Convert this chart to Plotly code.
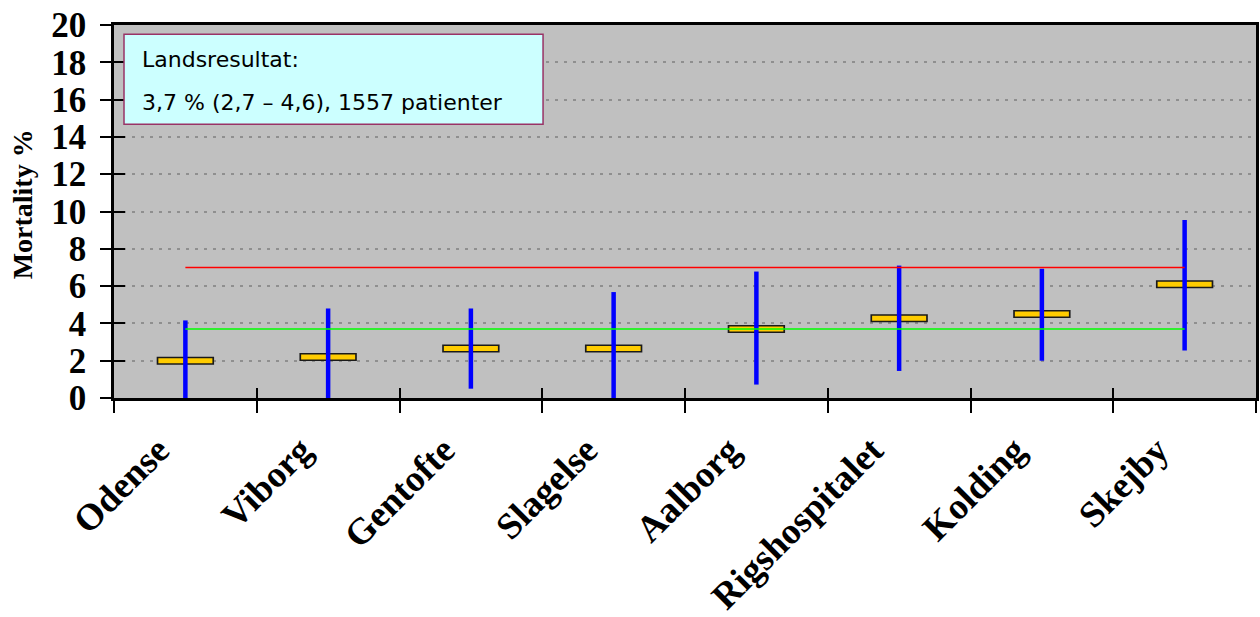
import plotly.graph_objects as go
import numpy as np

hospitals = ["Odense", "Viborg", "Gentofte", "Slagelse", "Aalborg",
             "Rigshospitalet", "Kolding", "Skejby"]
mortality = [2.0, 2.2, 2.65, 2.65, 3.7, 4.27, 4.5, 6.1]
ci_upper = [4.16, 4.8, 4.8, 5.68, 6.78, 7.1, 6.93, 9.55]
ci_lower = [0.0, 0.0, 0.5, 0.0, 0.72, 1.45, 2.0, 2.55]
national_mean = 3.7
upper_limit = 7.0
y_ticks = [0, 2, 4, 6, 8, 10, 12, 14, 16, 18, 20]
y_title = "Mortality %"
box_line1 = "Landsresultat:"
box_line2 = "3,7 % (2,7 – 4,6), 1557 patienter"

serif = "Liberation Serif, Times New Roman, serif"
sans = "DejaVu Sans, Verdana, sans-serif"

mort = np.array(mortality)
up = np.array(ci_upper) - mort
dn = mort - np.array(ci_lower)

fig = go.Figure()

# marker border (black) and fill (yellow)
fig.add_trace(go.Scatter(
    x=hospitals, y=mortality, mode="markers", showlegend=False, hoverinfo="skip",
    marker=dict(symbol="line-ew", size=41, color="#1a1a1a",
                line=dict(width=8, color="#1a1a1a"))))
fig.add_trace(go.Scatter(
    x=hospitals, y=mortality, mode="markers", showlegend=False,
    marker=dict(symbol="line-ew", size=38.6, color="#FFCC00",
                line=dict(width=5, color="#FFCC00"))))

# confidence intervals
fig.add_trace(go.Scatter(
    x=hospitals, y=mortality, mode="markers", showlegend=False, hoverinfo="skip",
    marker=dict(size=1, color="rgba(0,0,0,0)"),
    error_y=dict(type="data", symmetric=False, array=up, arrayminus=dn,
                 color="#0000FF", thickness=4.5, width=0)))

# reference lines (on overlay axes so they're on top)
fig.add_trace(go.Scatter(
    x=[hospitals[0], hospitals[-1]], y=[upper_limit, upper_limit],
    mode="lines", line=dict(color="#FF0000", width=1.5),
    showlegend=False, xaxis="x2", yaxis="y2"))
fig.add_trace(go.Scatter(
    x=[hospitals[0], hospitals[-1]], y=[national_mean, national_mean],
    mode="lines", line=dict(color="#00FF00", width=1.5),
    showlegend=False, xaxis="x2", yaxis="y2"))

cat_range = [-0.5, len(hospitals) - 0.5]

fig.update_layout(
    width=1260, height=617,
    margin=dict(l=114, r=4, t=25, b=219),
    paper_bgcolor="white", plot_bgcolor="#C0C0C0",
    showlegend=False,
    xaxis=dict(
        type="category", categoryorder="array", categoryarray=hospitals,
        range=cat_range, tickson="boundaries", automargin=False,
        ticks="outside", ticklen=12, tickwidth=2, tickcolor="black",
        showline=True, linecolor="black", linewidth=2.5, mirror=True,
        showgrid=False, zeroline=False,
        tickangle=-45, ticklabelstandoff=13, ticklabelshift=-27,
        tickfont=dict(family=serif, size=37, color="black", weight="bold"),
    ),
    yaxis=dict(
        range=[0, 20], tickvals=y_ticks, automargin=False,
        ticks="outside", ticklen=11, tickwidth=2, tickcolor="black",
        showline=True, linecolor="black", linewidth=2.5, mirror=True,
        showgrid=True, gridcolor="#8f8f8f", gridwidth=2, griddash="3px,6px",
        zeroline=False, ticklabelstandoff=7,
        tickfont=dict(family=serif, size=35, color="black", weight="bold"),
    ),
    xaxis2=dict(
        type="category", categoryorder="array", categoryarray=hospitals,
        range=cat_range, tickson="boundaries", overlaying="x", automargin=False,
        ticks="inside", ticklen=10, tickwidth=2, tickcolor="black",
        showticklabels=False, showgrid=False, zeroline=False, showline=False,
    ),
    yaxis2=dict(
        range=[0, 20], tickvals=y_ticks, overlaying="y", side="left",
        automargin=False,
        ticks="inside", ticklen=11, tickwidth=2, tickcolor="black",
        showticklabels=False, showgrid=False, zeroline=False, showline=False,
    ),
    shapes=[dict(type="rect", xref="paper", yref="paper",
                 x0=0.00876, x1=0.3757, y0=0.7338, y1=0.975,
                 fillcolor="#CCFFFF", line=dict(color="#993366", width=1.5),
                 layer="above")],
    annotations=[
        dict(text=box_line1, xref="paper", yref="paper", x=0.0228, y=0.908,
             xanchor="left", yanchor="middle", showarrow=False,
             font=dict(family=sans, size=22, color="black")),
        dict(text=box_line2, xref="paper", yref="paper", x=0.0228, y=0.7928,
             xanchor="left", yanchor="middle", showarrow=False,
             font=dict(family=sans, size=22, color="black")),
        dict(text="<b>" + y_title + "</b>", xref="paper", yref="paper",
             x=-0.0806, y=0.519, xanchor="center", yanchor="middle",
             textangle=-90, showarrow=False,
             font=dict(family=serif, size=28, color="black")),
    ],
)

fig.write_html("out.html")
